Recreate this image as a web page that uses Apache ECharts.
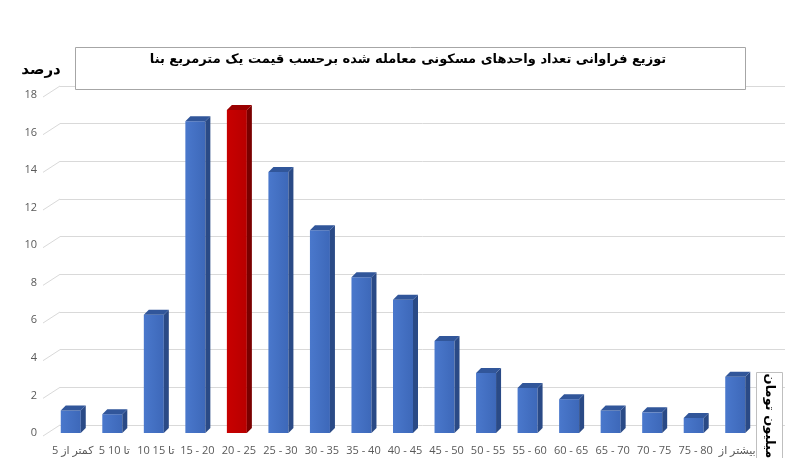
<!DOCTYPE html>
<html>
<head>
<meta charset="utf-8">
<script src="https://cdn.jsdelivr.net/npm/echarts@6/dist/echarts.min.js"></script>
<style>html,body{margin:0;padding:0;background:#fff}#c{width:800px;height:458px}</style>
</head>
<body>
<div id="c"></div>
<script>
var categories = ['کمتر از 5','5 تا 10','10 تا 15','15 - 20','20 - 25','25 - 30','30 - 35','35 - 40','40 - 45','45 - 50','50 - 55','55 - 60','60 - 65','65 - 70','70 - 75','75 - 80','بیشتر از'];
var values = [1.2, 1.0, 6.3, 16.6, 17.2, 13.9, 10.8, 8.3, 7.1, 4.9, 3.2, 2.4, 1.8, 1.2, 1.1, 0.8, 3.0];
var highlightIndex = 4;
var yTicks = [0,2,4,6,8,10,12,14,16,18];
var titleText = 'توزیع فراوانی تعداد واحدهای مسکونی معامله شده برحسب قیمت یک مترمربع بنا';
var yUnit = 'درصد';
var xUnit = 'میلیون تومان';

var chart = echarts.init(document.getElementById('c'), null, {renderer:'canvas'});
var fontMix = "'Open Sans','DejaVu Sans',sans-serif";

function renderBar(params, api){
  var idx = api.value(0), v = api.value(1);
  var p0 = api.coord([idx, 0]), p1 = api.coord([idx, v]);
  var w = 20, dx = 5, dy = 5;
  var left = p0[0] - w/2 - 2;
  var red = idx === highlightIndex;
  var front = red ? new echarts.graphic.LinearGradient(0,0,1,0,[{offset:0,color:'#c80000'},{offset:1,color:'#b80000'}])
                  : new echarts.graphic.LinearGradient(0,0,1,0,[{offset:0,color:'#4a78cc'},{offset:1,color:'#3d68b9'}]);
  var side = red ? '#7a0000' : '#2a4a86';
  var top = red ? '#9a0000' : '#31569a';
  return {type:'group', children:[
    {type:'rect', shape:{x:left, y:p1[1], width:w, height:p0[1]-p1[1]}, style:{fill:front}},
    {type:'polygon', shape:{points:[[left+w,p1[1]],[left+w+dx,p1[1]-dy],[left+w+dx,p0[1]-dy],[left+w,p0[1]]]}, style:{fill:side}},
    {type:'polygon', shape:{points:[[left,p1[1]],[left+dx,p1[1]-dy],[left+w+dx,p1[1]-dy],[left+w,p1[1]]]}, style:{fill:top}}
  ]};
}

function renderDiag(params, api){
  var p = api.coord([0, api.value(0)]);
  return {type:'line', shape:{x1:p[0]-17, y1:p[1]+11, x2:p[0], y2:p[1]}, style:{stroke:'#d9d9d9', lineWidth:1}};
}

var option = {
  animation:false,
  backgroundColor:'#fff',
  grid:[
    {left:52, right:42, top:95, bottom:25},
    {left:60, right:15, top:86, bottom:33}
  ],
  xAxis:[
    {type:'category', gridIndex:0, data:categories, axisLine:{show:false}, axisTick:{show:false},
     axisLabel:{interval:0, color:'#595959', fontSize:11, margin:12, fontFamily:fontMix}},
    {type:'value', gridIndex:1, min:0, max:1, show:false}
  ],
  yAxis:[
    {type:'value', gridIndex:0, min:0, max:18, interval:2, splitLine:{show:false}, axisLine:{show:false}, axisTick:{show:false},
     axisLabel:{color:'#595959', fontSize:11, margin:15, fontFamily:fontMix}},
    {type:'value', gridIndex:1, min:0, max:18, interval:2, axisLine:{show:false}, axisTick:{show:false}, axisLabel:{show:false},
     splitLine:{show:true, lineStyle:{color:'#d9d9d9', width:1}}}
  ],
  series:[
    {type:'custom', xAxisIndex:1, yAxisIndex:1, renderItem:renderDiag, data:yTicks.map(function(t){return [t];}), encode:{y:0}, z:1, silent:true},
    {type:'custom', xAxisIndex:0, yAxisIndex:0, renderItem:renderBar, data:values.map(function(v,i){return [i,v];}), encode:{x:0,y:1}, z:5}
  ],
  graphic:[
    {type:'rect', left:75, top:47, shape:{width:670, height:42}, style:{fill:'#fff', stroke:'#a6a6a6', lineWidth:1}, z:100},
    {type:'text', x:408, y:60, z:101, style:{text:titleText, font:"bold 13px 'DejaVu Sans', sans-serif", fill:'#000', align:'center', verticalAlign:'middle'}},
    {type:'text', x:41, y:70, z:101, style:{text:yUnit, font:"bold 15px 'DejaVu Sans', sans-serif", fill:'#000', align:'center', verticalAlign:'middle'}},
    {type:'rect', left:756, top:372, shape:{width:26, height:95}, style:{fill:'#fff', stroke:'#bfbfbf', lineWidth:1}, z:100},
    {type:'text', x:769, y:416, rotation:-Math.PI/2, z:101, style:{text:xUnit, font:"bold 13px 'DejaVu Sans', sans-serif", fill:'#000', align:'center', verticalAlign:'middle'}}
  ]
};
chart.setOption(option);
</script>
</body>
</html>
